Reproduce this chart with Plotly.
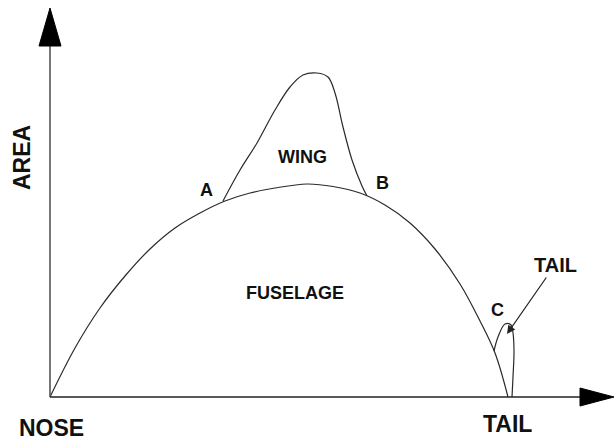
import plotly.graph_objects as go

# Cross-sectional area distribution along the body (station, area), schematic units
fuselage_x = [0, 25, 50, 75, 100, 125, 150, 175, 200, 225, 257, 283, 310, 335, 360, 385, 410, 430, 445, 458]
fuselage_area = [0, 49, 89, 121, 148, 169, 184, 196, 204, 209, 213, 210.5, 204, 192, 174, 148, 113, 76, 44, 0]

# Wing contribution added on top of the fuselage, between points A and B
wing_x = [173, 190, 207, 225, 240, 253, 267, 278, 285, 293, 302, 312, 317]
wing_area = [196, 227, 254, 287, 310, 322, 324, 320, 304, 270, 237, 211, 201]

# Tail contribution starting at point C
tail_x = [444, 448, 455, 461, 463, 464, 463, 462]
tail_area = [46, 60, 73, 72, 64, 45, 20, 0]

# Labels: (text, station, area, font size)
region_labels = [
    ("WING", 252, 240, 18),
    ("FUSELAGE", 245, 104, 18),
    ("A", 156, 207, 18),
    ("B", 332, 214, 18),
    ("C", 447, 87, 18),
]
axis_labels = [
    ("NOSE", 1, -31),
    ("TAIL", 457, -27),
]

# Axis extents
x_min, x_max = -50, 565
y_min, y_max = -44, 397
x_axis_end = 564
y_axis_end = 389
head_len_x, head_half_x = 34, 9
head_len_y, head_half_y = 38, 11

LINE = "#2a2a2a"
FONT = "Liberation Sans"

fig = go.Figure()

curve_style = dict(mode="lines", line=dict(color=LINE, width=1.2, shape="spline", smoothing=1.0),
                   hoverinfo="skip", showlegend=False)
fig.add_trace(go.Scatter(x=fuselage_x, y=fuselage_area, **curve_style))
fig.add_trace(go.Scatter(x=wing_x, y=wing_area, **curve_style))
fig.add_trace(go.Scatter(x=tail_x, y=tail_area, **curve_style))

# Axes drawn as arrows
fig.add_trace(go.Scatter(x=[0, 0], y=[0, y_axis_end - head_len_y], mode="lines",
                         line=dict(color="#555555", width=1.6), hoverinfo="skip", showlegend=False))
fig.add_trace(go.Scatter(x=[0, x_axis_end - head_len_x], y=[0, 0], mode="lines",
                         line=dict(color="#222222", width=1.4), hoverinfo="skip", showlegend=False))
fig.add_trace(go.Scatter(
    x=[-head_half_y, head_half_y, 0, -head_half_y],
    y=[y_axis_end - head_len_y, y_axis_end - head_len_y, y_axis_end, y_axis_end - head_len_y],
    mode="lines", fill="toself", fillcolor="#000000", line=dict(color="#000000", width=1),
    hoverinfo="skip", showlegend=False))
fig.add_trace(go.Scatter(
    x=[x_axis_end - head_len_x, x_axis_end - head_len_x, x_axis_end, x_axis_end - head_len_x],
    y=[-head_half_x, head_half_x, 0, -head_half_x],
    mode="lines", fill="toself", fillcolor="#000000", line=dict(color="#000000", width=1),
    hoverinfo="skip", showlegend=False))

for text, xv, yv, size in region_labels:
    fig.add_annotation(x=xv, y=yv, text=text, showarrow=False,
                       font=dict(family=FONT, size=size, color="#111111", weight="bold"))

for text, xv, yv in axis_labels:
    fig.add_annotation(x=xv, y=yv, text=text, showarrow=False,
                       font=dict(family=FONT, size=23, color="#111111", weight="bold"))

fig.add_annotation(x=-28, y=239, text="AREA", showarrow=False, textangle=-90,
                   font=dict(family=FONT, size=23, color="#111111", weight="bold"))

# Callout pointing at the tail bump
fig.add_annotation(x=457, y=63, ax=505, ay=132, axref="x", ayref="y",
                   text="TAIL", showarrow=True, arrowhead=2, arrowsize=1.4, arrowwidth=1.2,
                   arrowcolor="#222222", standoff=0,
                   font=dict(family=FONT, size=20, color="#111111", weight="bold"))

fig.update_layout(
    width=615, height=441,
    margin=dict(l=0, r=0, t=0, b=0),
    paper_bgcolor="white", plot_bgcolor="white",
    xaxis=dict(range=[x_min, x_max], visible=False, fixedrange=True),
    yaxis=dict(range=[y_min, y_max], visible=False, fixedrange=True),
    showlegend=False,
)

fig.write_html("out.html")
